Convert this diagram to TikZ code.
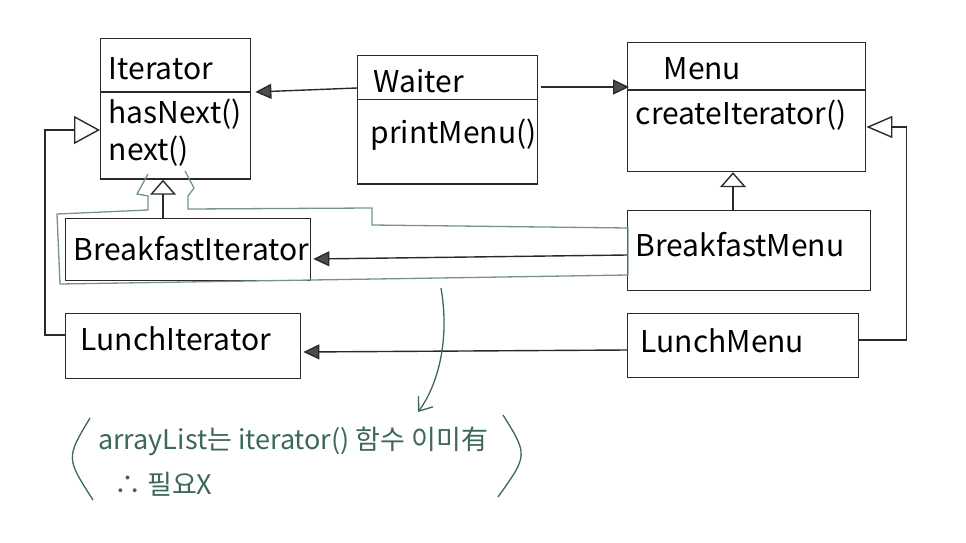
\documentclass[tikz,border=0pt]{standalone}
\usepackage{fontspec}
\setmainfont{Noto Sans CJK KR}
\usetikzlibrary{shapes.multipart,arrows.meta,calc}
\usepackage{xcolor}
\definecolor{tinta}{RGB}{45,40,45}
\definecolor{puntafill}{RGB}{80,75,80}
\definecolor{verdenota}{RGB}{60,105,85}
\definecolor{verdemarco}{RGB}{115,150,130}
\newcommand{\umlfont}{\fontsize{30}{37}\selectfont}
\newcommand{\ystrut}[2]{\vrule width 0pt height #1 depth #2\relax}
\newcommand{\splitbox}[4]{%
  \node[rectangle split, rectangle split parts=2, draw=tinta, line width=1.4pt,
        align=left, font=\umlfont, text width=#2, inner xsep=8pt, inner ysep=6pt,
        anchor=north west, #4] (#1) at #3}
\newcommand{\simplebox}[4]{%
  \node[draw=tinta, line width=1.4pt, align=left, font=\umlfont,
        text width=#2, inner xsep=8pt, inner ysep=6pt,
        anchor=north west, #4] (#1) at #3}

\begin{document}
\begin{tikzpicture}[x=1pt, y=-1pt,
  assoc/.style={draw=tinta, line width=1.4pt,
    -{Triangle[length=16pt,width=15pt,fill=puntafill]}},
  inherit/.style={draw=tinta, line width=1.4pt, -{Triangle[open,#1]}},
  inherit/.default={length=15pt,width=26pt},
  marco/.style={draw=verdemarco, line width=1.3pt},
  notearrow/.style={draw=verdenota, line width=1.3pt,
    -{Straight Barb[length=12pt,width=18pt]}}]
\useasboundingbox (0,0) rectangle (966,543);

% clases de arriba
\splitbox{Iterator}{134pt}{(100,38)}{}
  {Iterator\ystrut{34pt}{6pt}
   \nodepart{two}
   \ystrut{24pt}{0pt}hasNext() \\
   next()\ystrut{0pt}{12pt}};

\splitbox{Waiter}{164pt}{(357,55)}{}
  {\hspace*{8pt}Waiter\ystrut{30pt}{0pt}
   \nodepart{two}
   \hspace*{5pt}printMenu()\ystrut{37pt}{34pt}};

\splitbox{Menu}{222pt}{(627,42)}{}
  {\hspace*{28pt}Menu\ystrut{30pt}{4pt}
   \nodepart{two}
   createIterator()\ystrut{28pt}{40pt}};

% clases concretas
\simplebox{BreakfastIterator}{229pt}{(65,218)}{text height=36pt, text depth=14pt}
  {BreakfastIterator};
\simplebox{BreakfastMenu}{227pt}{(627,210)}{text height=40pt, text depth=28pt}
  {BreakfastMenu};
\simplebox{LunchIterator}{219pt}{(65,313)}{text height=31pt, text depth=22pt}
  {\hspace*{7pt}LunchIterator};
\simplebox{LunchMenu}{215pt}{(627,313)}{text height=33pt, text depth=19pt}
  {\hspace*{5pt}LunchMenu};

% marco verde
\draw[marco] (148,174) -- (137,194) -- (148,196) -- (148,210) -- (57,214)
  -- (60,284) -- (628,275) -- (628,228) -- (372,225) -- (372,208)
  -- (188,209) -- (188,196) -- (194,188) -- (185,171);
\coordinate (marcoPie) at (441,288);

% nota
\node[font=\fontsize{27}{45}\selectfont, text=verdenota, align=left,
      anchor=base west, inner sep=0pt] (nota) at (98,494)
  {arrayList는 iterator() 함수 이미有\\
   \hspace*{16pt}∴ 필요X};
\draw[verdenota, line width=1.3pt] (90,418) .. controls (66,458) .. (93,500);
\draw[verdenota, line width=1.3pt] (503,415) .. controls (528,455) .. (498,497);
\coordinate (notaPunta) at ($(nota.base west)+(320,-82)$);

% conexiones
\draw[assoc] ($(Waiter.north west)+(0,33)$) -- ($(Iterator.north east)+(4,54)$);
\draw[assoc] ($(Waiter.north east)+(3,32)$) -- ($(Menu.north west)+(2,45)$);
\draw[inherit] ($(BreakfastIterator.north west)+(98,0)$) -- ($(Iterator.south west)+(63,0)$);
\draw[inherit] ($(BreakfastMenu.north west)+(106,0)$) -- ($(Menu.south west)+(106,0)$);
\draw[inherit={length=26pt,width=28pt}] ($(LunchIterator.north west)+(0,22)$)
  -- ++(-20,0) |- ($(Iterator.north west)+(0,92)$);
\draw[inherit={length=26pt,width=22pt}] ($(LunchMenu.north east)+(0,27)$)
  -- ++(47,0) |- ($(Menu.north east)+(0,85)$);
\draw[assoc] ($(BreakfastMenu.north west)+(0,45)$) -- ($(BreakfastIterator.north east)+(2,41)$);
\draw[assoc] ($(LunchMenu.north west)+(0,37)$) -- ($(LunchIterator.north east)+(2,39)$);
\draw[notearrow] (marcoPie) .. controls (450,340) and (438,385) .. (notaPunta);

\end{tikzpicture}
\end{document}
